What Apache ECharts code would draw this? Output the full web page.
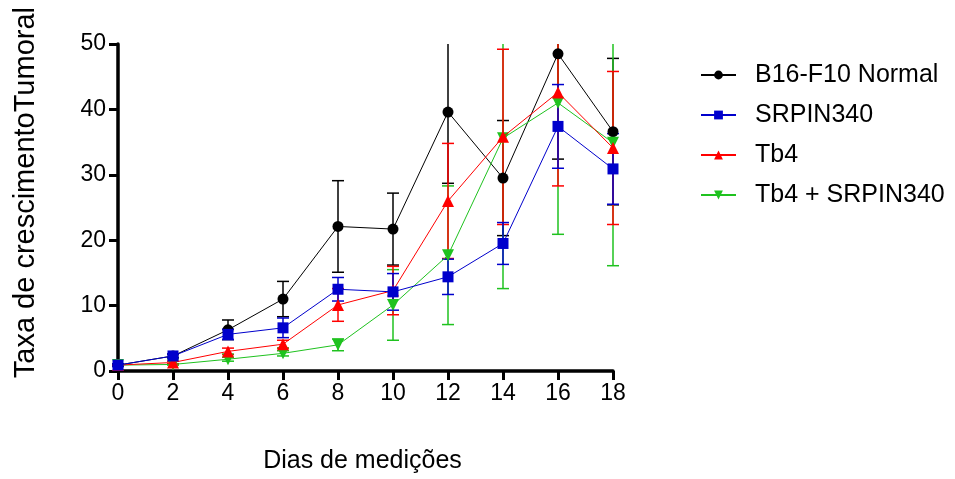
<!DOCTYPE html>
<html>
<head>
<meta charset="utf-8">
<script src="https://cdn.jsdelivr.net/npm/echarts@6/dist/echarts.min.js"></script>
<style>
  html, body { margin: 0; padding: 0; background: #fff; }
  #chart { width: 955px; height: 479px; }
</style>
</head>
<body>
<div id="chart"></div>
<script>
// dias de medição
const days = [0, 2, 4, 6, 8, 10, 12, 14, 16, 18];

// médias e erros
const normalMean = [0.9, 2.3, 6.3, 11.0, 22.1, 21.7, 39.6, 29.5, 48.5, 36.6];
const normalErr  = [0.2, 0.3, 1.5, 2.7, 7.0, 5.5, 10.9, 8.8, 16.1, 11.2];
const srpinMean  = [0.9, 2.3, 5.6, 6.6, 12.5, 12.1, 14.4, 19.5, 37.4, 30.9];
const srpinErr   = [0.2, 0.3, 0.8, 1.5, 1.8, 2.8, 2.7, 3.2, 6.4, 5.4];
const tb4Mean    = [0.9, 1.3, 3.0, 4.1, 10.1, 12.3, 26.0, 35.8, 42.6, 34.1];
const tb4Err     = [0.1, 0.2, 0.5, 0.6, 2.5, 3.7, 8.8, 13.4, 14.3, 11.7];
const comboMean  = [0.9, 1.0, 1.8, 2.7, 4.0, 10.1, 17.7, 35.6, 41.0, 34.9];
const comboErr   = [0.1, 0.1, 0.3, 0.4, 0.9, 5.4, 10.6, 23.0, 20.1, 18.8];

const FONT = "'Liberation Sans', Arial, sans-serif";

const groups = [
    { name: 'B16-F10 Normal', mean: normalMean, err: normalErr, color: '#000000', symbol: 'circle', size: 11, rotate: 0 },
    { name: 'Tb4 + SRPIN340', mean: comboMean, err: comboErr, color: '#1FC21F', symbol: 'triangle', size: 12, rotate: 180 },
    { name: 'Tb4', mean: tb4Mean, err: tb4Err, color: '#FF0000', symbol: 'triangle', size: 12, rotate: 0 },
    { name: 'SRPIN340', mean: srpinMean, err: srpinErr, color: '#0000CC', symbol: 'rect', size: 11, rotate: 0 }
];

// barra de erro (média ± erro), cortada no limite do gráfico
function errorBarRenderer(color) {
    return function (params, api) {
        const x = api.value(0);
        const lo = api.coord([x, api.value(1)]);
        const hi = api.coord([x, api.value(2)]);
        const rect = params.coordSys;
        const top = rect.y, bottom = rect.y + rect.height;
        const yHi = Math.max(hi[1], top);
        const yLo = Math.min(lo[1], bottom);
        const half = 6;
        const children = [{
            type: 'line',
            shape: { x1: lo[0], y1: yLo, x2: lo[0], y2: yHi },
            style: { stroke: color, lineWidth: 1.5 }
        }];
        if (hi[1] >= top) {
            children.push({ type: 'line', shape: { x1: hi[0] - half, y1: hi[1], x2: hi[0] + half, y2: hi[1] }, style: { stroke: color, lineWidth: 1.5 } });
        }
        if (lo[1] <= bottom) {
            children.push({ type: 'line', shape: { x1: lo[0] - half, y1: lo[1], x2: lo[0] + half, y2: lo[1] }, style: { stroke: color, lineWidth: 1.5 } });
        }
        return { type: 'group', children: children };
    };
}

const series = [];
groups.forEach((g, i) => {
    series.push({
        name: g.name + ' err',
        type: 'custom',
        z: 2,
        silent: true,
        renderItem: errorBarRenderer(g.color),
        data: days.map((d, k) => [d, g.mean[k] - g.err[k], g.mean[k] + g.err[k]]),
        encode: { x: 0, y: [1, 2] }
    });
});
groups.forEach((g, i) => {
    series.push({
        name: g.name,
        type: 'line',
        z: 3 + i,
        data: days.map((d, k) => [d, g.mean[k]]),
        symbol: g.symbol,
        symbolSize: g.size,
        symbolRotate: g.rotate,
        lineStyle: { color: g.color, width: 1 },
        itemStyle: { color: g.color },
        animation: false
    });
});

const chart = echarts.init(document.getElementById('chart'));
chart.setOption({
    animation: false,
    backgroundColor: '#fff',
    grid: { left: 118, right: 342, top: 44, bottom: 105 },
    legend: {
        orient: 'vertical',
        left: 695,
        top: 57,
        itemWidth: 35,
        itemHeight: 11,
        itemGap: 14,
        data: ['B16-F10 Normal', 'SRPIN340', 'Tb4', 'Tb4 + SRPIN340'],
        textStyle: { fontFamily: FONT, fontSize: 25, color: '#000', lineHeight: 26, padding: [0, 0, 0, 14] }
    },
    xAxis: {
        type: 'value',
        min: 0,
        max: 18,
        interval: 2,
        name: 'Dias de medições',
        nameLocation: 'middle',
        nameGap: 78,
        nameTextStyle: { fontFamily: FONT, fontSize: 25, color: '#000', padding: [0, 6, 0, 0] },
        axisLine: { lineStyle: { color: '#000', width: 3.5 } },
        axisTick: { length: 9, lineStyle: { color: '#000', width: 3 } },
        axisLabel: { fontFamily: FONT, fontSize: 23, color: '#000', margin: 11 },
        splitLine: { show: false }
    },
    yAxis: {
        type: 'value',
        min: 0,
        max: 50,
        interval: 10,
        axisLine: { show: true, lineStyle: { color: '#000', width: 3.5 } },
        axisTick: { show: true, length: 9, lineStyle: { color: '#000', width: 3 } },
        axisLabel: { fontFamily: FONT, fontSize: 23, color: '#000', margin: 12 },
        splitLine: { show: false }
    },
    graphic: [{
        type: 'text',
        left: 11,
        top: 7,
        rotation: Math.PI / 2,
        style: {
            text: 'Taxa de crescimentoTumoral',
            font: "29px 'Liberation Sans', Arial, sans-serif",
            fill: '#000'
        }
    }],
    series: series
});
</script>
</body>
</html>
